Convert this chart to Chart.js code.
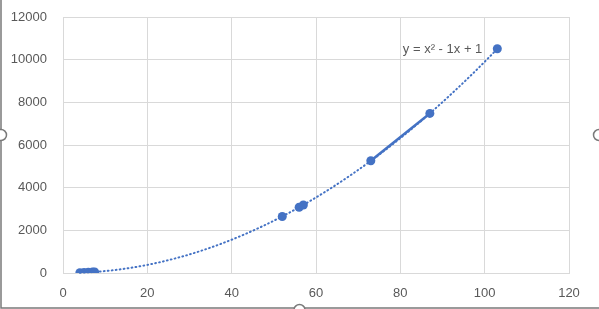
<!DOCTYPE html>
<html>
<head>
<meta charset="UTF-8">
<title>Scatter with trendline</title>
<script src="https://cdn.jsdelivr.net/npm/chart.js"></script>
<style>
  html, body { margin: 0; padding: 0; background: #fff; }
  #wrap { width: 599px; height: 309px; position: relative; }
</style>
</head>
<body>
<div id="wrap"><canvas id="chart"></canvas></div>
<script>
// data
const xValues = [4, 5, 6, 7, 7.5, 52, 56, 57, 73, 87, 103];
const yValues = [13, 21, 31, 43, 50, 2650, 3080, 3190, 5260, 7480, 10510];
// true = joined to the previous point by a solid line
const linked = [false, true, true, true, true, false, false, true, false, true, false];
// trendline y = a*x^2 + b*x + c
const trendCoef = [1, -1, 1];
const trendLabel = 'y = x\u00B2 - 1x + 1';
const xTicks = [0, 20, 40, 60, 80, 100, 120];
const yTicks = [0, 2000, 4000, 6000, 8000, 10000, 12000];

const blue = '#4472C4';
const textGrey = '#595959';
const gridGrey = '#D9D9D9';
const font = { family: '"Liberation Sans", Arial, sans-serif', size: 13 };

const trendPlugin = {
    id: 'trend',
    beforeDatasetsDraw(chart) {
        const ctx = chart.ctx, xs = chart.scales.x, ys = chart.scales.y;
        const x0 = Math.min(...xValues), x1 = Math.max(...xValues);
        const f = x => trendCoef[0] * x * x + trendCoef[1] * x + trendCoef[2];
        ctx.save();
        ctx.strokeStyle = blue;
        ctx.lineWidth = 2;
        ctx.lineCap = 'round';
        ctx.setLineDash([0.8, 3.2]);
        ctx.beginPath();
        const n = 200;
        for (let i = 0; i <= n; i++) {
            const x = x0 + (x1 - x0) * i / n;
            const px = xs.getPixelForValue(x), py = ys.getPixelForValue(f(x));
            if (i === 0) ctx.moveTo(px, py); else ctx.lineTo(px, py);
        }
        ctx.stroke();
        ctx.setLineDash([]);
        // equation label next to the last point
        ctx.fillStyle = textGrey;
        ctx.font = font.size + 'px ' + font.family;
        ctx.textAlign = 'right';
        ctx.textBaseline = 'middle';
        ctx.fillText(trendLabel, xs.getPixelForValue(x1) - 15, ys.getPixelForValue(f(x1)) + 1);
        ctx.restore();
    },
    afterDraw(chart) {
        // selection frame and handles around the chart object
        const ctx = chart.ctx;
        const w = chart.width, h = chart.height;
        ctx.save();
        ctx.strokeStyle = '#7A7A7A';
        ctx.lineWidth = 1.5;
        ctx.beginPath();
        ctx.moveTo(1, 0);
        ctx.lineTo(1, h - 1);
        ctx.lineTo(w, h - 1);
        ctx.stroke();
        ctx.fillStyle = '#fff';
        [[1, 135], [w, 135], [w / 2, h + 1]].forEach(p => {
            ctx.beginPath();
            ctx.arc(p[0], p[1], 5.5, 0, Math.PI * 2);
            ctx.fill();
            ctx.stroke();
        });
        ctx.restore();
    }
};

new Chart(document.getElementById('chart'), {
    type: 'scatter',
    data: {
        datasets: [{
            data: xValues.map((x, i) => ({ x: x, y: yValues[i] })),
            showLine: true,
            borderColor: blue,
            borderWidth: 2.5,
            backgroundColor: blue,
            pointRadius: 4.5,
            pointHoverRadius: 4.5,
            pointBorderWidth: 0,
            segment: {
                borderColor: c => linked[c.p1DataIndex] ? blue : 'transparent'
            }
        }]
    },
    options: {
        responsive: true,
        maintainAspectRatio: false,
        animation: false,
        layout: { padding: { top: 17, right: 30, left: 0, bottom: 0 } },
        plugins: { legend: { display: false }, tooltip: { enabled: false } },
        scales: {
            x: {
                type: 'linear',
                min: xTicks[0],
                max: xTicks[xTicks.length - 1],
                afterBuildTicks: s => { s.ticks = xTicks.map(v => ({ value: v })); },
                afterFit: s => { s.height = 36; },
                grid: { color: gridGrey, drawTicks: false },
                border: { color: gridGrey },
                ticks: { color: textGrey, font: font, padding: 13, maxRotation: 0 }
            },
            y: {
                type: 'linear',
                min: yTicks[0],
                max: yTicks[yTicks.length - 1],
                afterBuildTicks: s => { s.ticks = yTicks.map(v => ({ value: v })); },
                afterFit: s => { s.width = 63; s.paddingTop = 0; s.paddingBottom = 0; },
                grid: { color: gridGrey, drawTicks: false },
                border: { color: gridGrey },
                ticks: { color: textGrey, font: font, padding: 16, callback: v => String(v) }
            }
        }
    },
    plugins: [trendPlugin]
});
</script>
</body>
</html>
